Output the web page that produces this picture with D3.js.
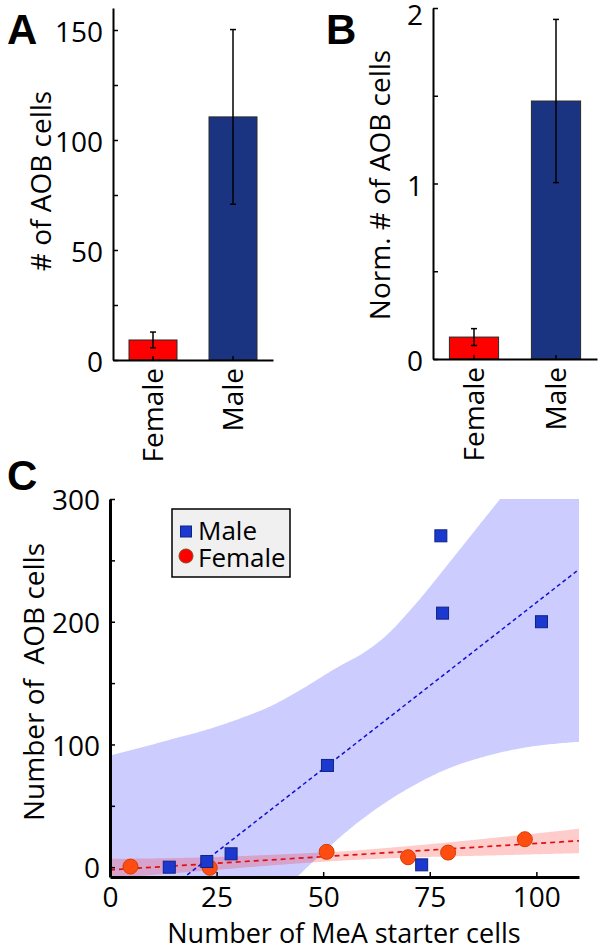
<!DOCTYPE html>
<html>
<head>
<meta charset="utf-8">
<script src="https://cdn.jsdelivr.net/npm/d3@7"></script>
<style>
  body { margin: 0; background: #fff; }
  svg { display: block; }
  text { font-family: "Open Sans", "Noto Sans", sans-serif; fill: #000; }
</style>
</head>
<body>
<svg id="chart" width="600" height="952"></svg>
<script>
// ---------------- DATA ----------------
const barCategories = ["Female", "Male"];
const barAValues = [9.1, 110.5];
const barAErrors = [3.6, 39.7];
const barBValues = [0.125, 1.47];
const barBErrors = [0.048, 0.465];
const barColors = ["#ff0000", "#1b3482"];

const aTicks = [0, 25, 50, 75, 100, 125, 150];
const aTickLabels = ["0", "", "50", "", "100", "", "150"];
const bTicks = [0, 0.5, 1, 1.5, 2];
const bTickLabels = ["0", "", "1", "", "2"];

const maleX = [13.9, 22.7, 28.4, 51.0, 73.1, 77.6, 78.0, 101.2];
const maleY = [0, 4.6, 10.9, 82.9, 1.9, 270, 207, 200];
const femaleX = [4.8, 23.4, 50.8, 69.9, 79.3, 97.3];
const femaleY = [0.5, -0.5, 12.5, 8.1, 11.9, 22.8];

const maleFitX = [0, 110];
const maleFitY = [-55.4, 242.7];
const femaleFitX = [0, 110];
const femaleFitY = [-2.2, 21.5];

// confidence band boundaries
const maleUpperX = [0, 6.6, 14.4, 22.2, 30.0, 37.8, 45.6, 53.3, 59.6, 63.9, 71.7, 79.4, 87.2, 91.5, 100, 110];
const maleUpperY = [91, 96.8, 104.2, 111.5, 120.5, 131.4, 146.4, 162.8, 175, 186, 214.6, 247.4, 281.4, 300, 335, 375];
const maleLowerX = [0, 20, 30, 38, 43.9, 50, 56.1, 63.9, 71.7, 79.4, 87.2, 95, 110];
const maleLowerY = [-205, -110, -62, -30, -8, 12, 30.8, 51, 67.5, 80.5, 89.5, 96, 102.2];
const femaleUpperX = [0, 20, 40, 54, 70, 90, 110];
const femaleUpperY = [6.8, 7.8, 10.4, 12.8, 17.2, 23.9, 31.3];
const femaleLowerX = [0, 20, 40, 54, 70, 90, 110];
const femaleLowerY = [-9, -3.5, 2.0, 5.3, 7.8, 9.6, 11.4];

const cXTicks = [0, 25, 50, 75, 100];
const cYTicks = [0, 50, 100, 150, 200, 250, 300];
const cYTickLabels = ["0", "", "100", "", "200", "", "300"];

// ---------------- DRAW ----------------
const svg = d3.select("#chart");
const FS = 28;

function panelLetter(txt, x, y) {
  svg.append("text").attr("x", x).attr("y", y).text(txt)
    .style("font-family", "'Liberation Sans', Arial, sans-serif")
    .style("font-weight", "bold").style("font-size", "42px");
}

function barPanel(opts) {
  const x = d3.scaleBand().domain(barCategories).range(opts.xRange)
    .paddingInner(0.4).paddingOuter(0.2);
  const y = d3.scaleLinear().domain(opts.yDomain).range(opts.yRange);
  const g = svg.append("g");

  // bars
  g.selectAll("rect.bar").data(barCategories).join("rect")
    .attr("x", d => x(d)).attr("width", x.bandwidth())
    .attr("y", (d, i) => y(opts.values[i]))
    .attr("height", (d, i) => y(0) - y(opts.values[i]))
    .attr("fill", (d, i) => barColors[i])
    .attr("stroke", "#2a2a2a").attr("stroke-width", 1);

  // error bars
  const cx = d => x(d) + x.bandwidth() / 2;
  const eb = g.selectAll("g.err").data(barCategories).join("g");
  eb.append("line")
    .attr("x1", cx).attr("x2", cx)
    .attr("y1", (d, i) => y(opts.values[i] + opts.errors[i]))
    .attr("y2", (d, i) => y(opts.values[i] - opts.errors[i]))
    .attr("stroke", "#000").attr("stroke-width", 1.5);
  [1, -1].forEach(s => {
    eb.append("line")
      .attr("x1", d => cx(d) - 3).attr("x2", d => cx(d) + 3)
      .attr("y1", (d, i) => y(opts.values[i] + s * opts.errors[i]))
      .attr("y2", (d, i) => y(opts.values[i] + s * opts.errors[i]))
      .attr("stroke", "#000").attr("stroke-width", 1.5);
  });

  // y axis
  const ya = d3.axisLeft(y).tickValues(opts.ticks)
    .tickFormat((d, i) => opts.tickLabels[i])
    .tickSizeInner(-5).tickSizeOuter(0).tickPadding(10);
  const yg = g.append("g").attr("transform", `translate(${opts.xRange[0]},0)`).call(ya);
  yg.select(".domain").attr("stroke", "#000").attr("stroke-width", 2);
  yg.selectAll(".tick line").attr("stroke", "#000").attr("stroke-width", 1.5);
  yg.selectAll(".tick text").style("font-size", FS + "px").attr("fill", "#000")
    .attr("dy", d => (y(d) - opts.yRange[1] < 10 ? "0.6em" : "0.42em"));

  // x axis
  const xa = d3.axisBottom(x).tickSizeInner(-4).tickSizeOuter(0).tickFormat("");
  const xg = g.append("g").attr("transform", `translate(0,${y(0)})`).call(xa);
  xg.select(".domain").attr("stroke", "#000").attr("stroke-width", 2);
  xg.selectAll(".tick line").attr("stroke", "#000").attr("stroke-width", 1.5);

  // rotated category labels
  g.selectAll("text.cat").data(barCategories).join("text")
    .attr("class", "cat")
    .attr("transform", d => `translate(${cx(d) + 10},${y(0) + 8}) rotate(-90)`)
    .attr("text-anchor", "end")
    .style("font-size", FS + "px")
    .text(d => d);

  // y label
  g.append("text")
    .attr("transform", `translate(${opts.labelX},${opts.labelY}) rotate(-90)`)
    .attr("text-anchor", "middle")
    .style("font-size", FS + "px")
    .text(opts.label);
}

barPanel({
  xRange: [113, 273], yDomain: [0, 160], yRange: [360, 8],
  values: barAValues, errors: barAErrors,
  ticks: aTicks, tickLabels: aTickLabels,
  label: "# of AOB cells", labelX: 51, labelY: 181
});
barPanel({
  xRange: [433, 597], yDomain: [0, 2], yRange: [359, 8],
  values: barBValues, errors: barBErrors,
  ticks: bTicks, tickLabels: bTickLabels,
  label: "Norm. # of AOB cells", labelX: 390, labelY: 185
});

panelLetter("A", 7, 44);
panelLetter("B", 326, 44);
panelLetter("C", 7, 490);

// ---------------- Panel C ----------------
const xC = d3.scaleLinear().domain([0, 110]).range([110, 579]);
const yC = d3.scaleLinear().domain([-8, 300]).range([877, 499]);
const gc = svg.append("g");

gc.append("clipPath").attr("id", "clipC").append("rect")
  .attr("x", xC(0)).attr("y", yC(300)).attr("width", xC(110) - xC(0)).attr("height", yC(-8) - yC(300));
const plot = gc.append("g").attr("clip-path", "url(#clipC)");

function drawBand(ux, uy, lx, ly, color) {
  const tmp = svg.append("g").attr("visibility", "hidden");
  const u = tmp.append("path").attr("d", d3.line().curve(d3.curveMonotoneX)(ux.map((v, i) => [xC(v), yC(uy[i])])));
  const l = tmp.append("path").attr("d", d3.line().curve(d3.curveMonotoneX)(lx.map((v, i) => [xC(v), yC(ly[i])])));
  const sample = (p) => {
    const n = p.node(), L = n.getTotalLength(), pts = [];
    for (let k = 0; k <= 300; k++) { const q = n.getPointAtLength(L * k / 300); pts.push([q.x, q.y]); }
    return pts;
  };
  const up = sample(u), lo = sample(l).reverse();
  tmp.remove();
  plot.append("path")
    .attr("d", "M" + up.concat(lo).map(p => p.join(",")).join("L") + "Z")
    .attr("fill", color).attr("fill-opacity", 0.2).attr("stroke", "none");
}
drawBand(maleUpperX, maleUpperY, maleLowerX, maleLowerY, "#0000ff");
drawBand(femaleUpperX, femaleUpperY, femaleLowerX, femaleLowerY, "#ff0000");

// fit lines
plot.append("path")
  .attr("d", d3.line()(femaleFitX.map((v, i) => [xC(v), yC(femaleFitY[i])])))
  .attr("stroke", "#e01010").attr("stroke-width", 1.7).attr("stroke-dasharray", "5,4").attr("fill", "none");
plot.append("path")
  .attr("d", d3.line()(maleFitX.map((v, i) => [xC(v), yC(maleFitY[i])])))
  .attr("stroke", "#1010d0").attr("stroke-width", 1.5).attr("stroke-dasharray", "4,3").attr("fill", "none");

// markers
gc.selectAll("circle.f").data(femaleX).join("circle")
  .attr("cx", d => xC(d)).attr("cy", (d, i) => yC(femaleY[i])).attr("r", 7.5)
  .attr("fill", "#ff4d12").attr("stroke", "#d23c00").attr("stroke-width", 1);
gc.selectAll("rect.m").data(maleX).join("rect")
  .attr("x", d => xC(d) - 6).attr("y", (d, i) => yC(maleY[i]) - 6)
  .attr("width", 12).attr("height", 12)
  .attr("fill", "#1c39cf").attr("stroke", "#0f2384").attr("stroke-width", 1);

// axes
const yaC = d3.axisLeft(yC).tickValues(cYTicks).tickFormat((d, i) => cYTickLabels[i])
  .tickSizeInner(-5).tickSizeOuter(0).tickPadding(10);
const ygC = gc.append("g").attr("transform", `translate(${xC(0)},0)`).call(yaC);
ygC.select(".domain").attr("stroke", "#000").attr("stroke-width", 3);
ygC.selectAll(".tick line").attr("stroke", "#000").attr("stroke-width", 1.5);
ygC.selectAll(".tick text").style("font-size", FS + "px").attr("fill", "#000").attr("dy", "0.38em");

const xaC = d3.axisBottom(xC).tickValues(cXTicks).tickFormat(d3.format("d"))
  .tickSizeInner(-5).tickSizeOuter(0).tickPadding(10);
const xgC = gc.append("g").attr("transform", `translate(0,${yC(-8)})`).call(xaC);
xgC.select(".domain").attr("stroke", "#000").attr("stroke-width", 3);
xgC.selectAll(".tick line").attr("stroke", "#000").attr("stroke-width", 1.5);
xgC.selectAll(".tick text").style("font-size", FS + "px").attr("fill", "#000");

gc.append("text").attr("x", 344).attr("y", 943).attr("text-anchor", "middle")
  .style("font-size", "27px").text("Number of MeA starter cells");
gc.append("text")
  .attr("transform", `translate(44,682) rotate(-90)`)
  .attr("text-anchor", "middle").attr("xml:space", "preserve").style("white-space", "pre")
  .style("font-size", FS + "px").text("Number of  AOB cells");

// legend
const lg = gc.append("g");
lg.append("rect").attr("x", 172).attr("y", 509).attr("width", 118).attr("height", 68)
  .attr("fill", "#f0f0f0").attr("stroke", "#000").attr("stroke-width", 1.5);
lg.append("rect").attr("x", 180.5).attr("y", 526).attr("width", 11).attr("height", 11)
  .attr("fill", "#1c39cf").attr("stroke", "#0f2384");
lg.append("circle").attr("cx", 186).attr("cy", 556).attr("r", 7)
  .attr("fill", "#ff0000").attr("stroke", "#8a4a10");
lg.append("text").attr("x", 198).attr("y", 540).style("font-size", "26px").text("Male");
lg.append("text").attr("x", 198).attr("y", 567).style("font-size", "26px").text("Female");
</script>
</body>
</html>
